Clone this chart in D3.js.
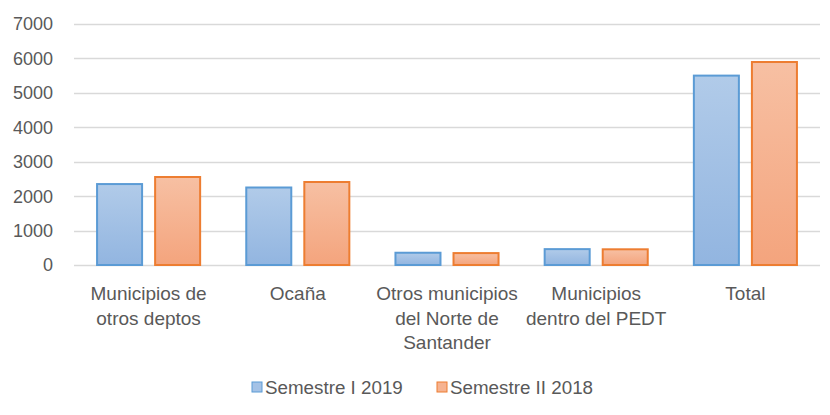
<!DOCTYPE html>
<head>
<meta charset="utf-8">
<script src="https://d3js.org/d3.v7.min.js"></script>
<style>
  body { margin: 0; background: #fff; }
  text { font-family: "Liberation Sans", Arial, sans-serif; fill: #595959; }
</style>
</head>
<body>
<script>
// data
var categories = [
  ["Municipios de", "otros deptos"],
  ["Ocaña"],
  ["Otros municipios", "del Norte de", "Santander"],
  ["Municipios", "dentro del PEDT"],
  ["Total"]
];
var seriesNames = ["Semestre I 2019", "Semestre II 2018"];
var sem1_2019 = [2380, 2280, 385, 490, 5530];
var sem2_2018 = [2585, 2440, 375, 485, 5925];
var yTicks = [0, 1000, 2000, 3000, 4000, 5000, 6000, 7000];

var w = 830, h = 415;
var plotLeft = 74, plotRight = 820, plotTop = 24, plotBottom = 265;

var svg = d3.select("body").append("svg")
    .attr("width", w).attr("height", h);

var defs = svg.append("defs");
var gradBlue = defs.append("linearGradient").attr("id", "gBlue")
    .attr("x1", 0).attr("y1", 0).attr("x2", 0).attr("y2", 1);
gradBlue.append("stop").attr("offset", "0%").attr("stop-color", "#b1cbe9");
gradBlue.append("stop").attr("offset", "100%").attr("stop-color", "#92b5e0");
var gradOrange = defs.append("linearGradient").attr("id", "gOrange")
    .attr("x1", 0).attr("y1", 0).attr("x2", 0).attr("y2", 1);
gradOrange.append("stop").attr("offset", "0%").attr("stop-color", "#f7c0a3");
gradOrange.append("stop").attr("offset", "100%").attr("stop-color", "#f4a47d");

var fills = ["url(#gBlue)", "url(#gOrange)"];
var strokes = ["#5b9bd5", "#ed7d31"];
var swatchFills = ["#a4c2e6", "#f6b391"];

var x0 = d3.scaleBand().domain(d3.range(categories.length)).range([plotLeft, plotRight]);
var x1 = d3.scaleBand().domain([0, 1]).range([0, x0.bandwidth()])
    .paddingInner(0.19).paddingOuter(0.38);
var y = d3.scaleLinear().domain([0, 7000]).range([plotBottom, plotTop]);

// grid
svg.append("g").selectAll("line").data(yTicks).enter().append("line")
    .attr("x1", plotLeft).attr("x2", plotRight)
    .attr("y1", function(d) { return Math.round(y(d)) + 0.5; })
    .attr("y2", function(d) { return Math.round(y(d)) + 0.5; })
    .attr("stroke", "#d9d9d9").attr("stroke-width", 1.3);

// y labels
svg.append("g").selectAll("text").data(yTicks).enter().append("text")
    .attr("x", 53).attr("y", function(d) { return y(d); })
    .attr("dy", "0.36em")
    .attr("text-anchor", "end")
    .style("font-size", "18px")
    .text(function(d) { return d; });

// bars
var data = categories.map(function(c, i) { return [sem1_2019[i], sem2_2018[i]]; });
var groups = svg.append("g").selectAll("g").data(data).enter().append("g")
    .attr("transform", function(d, i) { return "translate(" + x0(i) + ",0)"; });
groups.selectAll("rect").data(function(d) { return d; }).enter().append("rect")
    .attr("x", function(d, j) { return x1(j) + 1; })
    .attr("y", function(d) { return y(d) + 1; })
    .attr("width", x1.bandwidth() - 2)
    .attr("height", function(d) { return plotBottom - y(d) - 1; })
    .attr("fill", function(d, j) { return fills[j]; })
    .attr("stroke", function(d, j) { return strokes[j]; })
    .attr("stroke-width", 2);

// category labels
var labels = svg.append("g").selectAll("text").data(categories).enter().append("text")
    .attr("x", function(d, i) { return x0(i) + x0.bandwidth() / 2; })
    .attr("y", 300)
    .attr("text-anchor", "middle")
    .style("font-size", "19px");
labels.selectAll("tspan").data(function(d) { return d; }).enter().append("tspan")
    .attr("x", function() { return d3.select(this.parentNode).attr("x"); })
    .attr("dy", function(d, k) { return k === 0 ? 0 : 24.5; })
    .text(function(d) { return d; });

// legend
var legendX = [252, 437];
var legend = svg.append("g").selectAll("g").data(seriesNames).enter().append("g")
    .attr("transform", function(d, i) { return "translate(" + legendX[i] + ",382)"; });
legend.append("rect")
    .attr("width", 10).attr("height", 10)
    .attr("fill", function(d, i) { return swatchFills[i]; })
    .attr("stroke", function(d, i) { return strokes[i]; })
    .attr("stroke-width", 1);
legend.append("text")
    .attr("x", 13).attr("y", 5).attr("dy", "0.36em")
    .style("font-size", "18.8px")
    .text(function(d) { return d; });
</script>
</body>
